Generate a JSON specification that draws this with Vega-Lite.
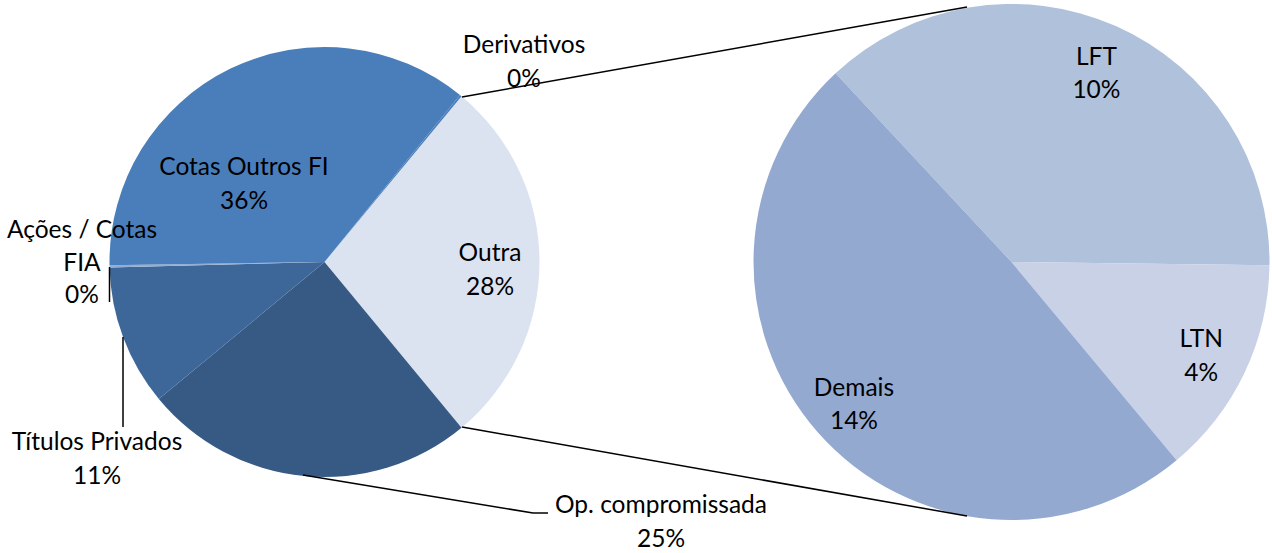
{
  "$schema": "https://vega.github.io/schema/vega-lite/v6.json",
  "width": 1272,
  "height": 553,
  "padding": 0,
  "autosize": {"type": "none"},
  "background": "white",
  "config": {
    "view": {"stroke": null},
    "text": {"font": "Lato", "fontSize": 24.5, "lineHeight": 33.5, "color": "#000000", "align": "center", "baseline": "middle"}
  },
  "datasets": {
    "slices": [
      {"pie": "main", "ord": 1, "label": "Outra", "value": 28},
      {"pie": "main", "ord": 2, "label": "Op. compromissada", "value": 25},
      {"pie": "main", "ord": 3, "label": "Títulos Privados", "value": 10.6},
      {"pie": "main", "ord": 4, "label": "Ações / Cotas FIA", "value": 0.15},
      {"pie": "main", "ord": 5, "label": "Cotas Outros FI", "value": 36.1},
      {"pie": "main", "ord": 6, "label": "Derivativos", "value": 0.15},
      {"pie": "detail", "ord": 1, "label": "LFT", "value": 10.4},
      {"pie": "detail", "ord": 2, "label": "LTN", "value": 3.85},
      {"pie": "detail", "ord": 3, "label": "Demais", "value": 13.75}
    ]
  },
  "data": {"name": "slices"},
  "layer": [
    {
      "transform": [{"filter": "datum.pie == 'main'"}],
      "mark": {"type": "arc", "radius": 215},
      "encoding": {
        "x": {"datum": 324.5, "type": "quantitative", "scale": {"domain": [0, 1272], "range": [0, 1272], "nice": false, "zero": false}, "axis": null},
        "y": {"datum": 262, "type": "quantitative", "scale": {"domain": [0, 553], "range": [0, 553], "nice": false, "zero": false}, "axis": null},
        "theta": {"field": "value", "type": "quantitative", "stack": true, "scale": {"range": [0.6912, 6.9744]}},
        "order": {"field": "ord", "type": "quantitative"},
        "color": {"field": "label", "type": "nominal", "legend": null,
          "scale": {"domain": ["Outra", "Op. compromissada", "Títulos Privados", "Ações / Cotas FIA", "Cotas Outros FI", "Derivativos", "LFT", "LTN", "Demais"],
                    "range": ["#DCE3F0", "#375A85", "#3C6798", "#93ADD3", "#4A7EBB", "#4A7EBB", "#B0C1DC", "#C8D1E5", "#94A9D0"]}}
      }
    },
    {
      "transform": [{"filter": "datum.pie == 'detail'"}, {"calculate": "datum.label + '\\n' + format(datum.value, '.0f') + '%'", "as": "txt"}],
      "encoding": {
        "x": {"datum": 1011.5, "type": "quantitative", "scale": {"domain": [0, 1272], "range": [0, 1272], "nice": false, "zero": false}, "axis": null},
        "y": {"datum": 262, "type": "quantitative", "scale": {"domain": [0, 553], "range": [0, 553], "nice": false, "zero": false}, "axis": null},
        "theta": {"field": "value", "type": "quantitative", "stack": true, "scale": {"range": [-0.7505, 5.5327]}},
        "order": {"field": "ord", "type": "quantitative"}
      },
      "layer": [
        {
          "mark": {"type": "arc", "radius": 258},
          "encoding": {
            "color": {"field": "label", "type": "nominal", "legend": null,
              "scale": {"domain": ["Outra", "Op. compromissada", "Títulos Privados", "Ações / Cotas FIA", "Cotas Outros FI", "Derivativos", "LFT", "LTN", "Demais"],
                        "range": ["#DCE3F0", "#375A85", "#3C6798", "#93ADD3", "#4A7EBB", "#4A7EBB", "#B0C1DC", "#C8D1E5", "#94A9D0"]}}
          }
        },
        {
          "mark": {"type": "text", "radius": 210, "lineBreak": "\n", "dy": -12},
          "encoding": {"text": {"field": "txt", "type": "nominal"}}
        }
      ]
    },
    {
      "data": {"values": [{}]},
      "mark": {"type": "rule", "color": "#000000", "strokeWidth": 1.5},
      "encoding": {
        "x": {"datum": 462, "type": "quantitative", "scale": {"domain": [0, 1272], "range": [0, 1272], "nice": false, "zero": false}, "axis": null},
        "y": {"datum": 97, "type": "quantitative", "scale": {"domain": [0, 553], "range": [0, 553], "nice": false, "zero": false}, "axis": null},
        "x2": {"datum": 967}, "y2": {"datum": 7}
      }
    },
    {
      "data": {"values": [{}]},
      "mark": {"type": "rule", "color": "#000000", "strokeWidth": 1.5},
      "encoding": {
        "x": {"datum": 462, "type": "quantitative", "scale": {"domain": [0, 1272], "range": [0, 1272], "nice": false, "zero": false}, "axis": null},
        "y": {"datum": 427, "type": "quantitative", "scale": {"domain": [0, 553], "range": [0, 553], "nice": false, "zero": false}, "axis": null},
        "x2": {"datum": 967}, "y2": {"datum": 516}
      }
    },
    {
      "data": {"values": [{}]},
      "mark": {"type": "rule", "color": "#000000", "strokeWidth": 1.5},
      "encoding": {
        "x": {"datum": 109.5, "type": "quantitative", "scale": {"domain": [0, 1272], "range": [0, 1272], "nice": false, "zero": false}, "axis": null},
        "y": {"datum": 267, "type": "quantitative", "scale": {"domain": [0, 553], "range": [0, 553], "nice": false, "zero": false}, "axis": null},
        "x2": {"datum": 109.5}, "y2": {"datum": 302}
      }
    },
    {
      "data": {"values": [{}]},
      "mark": {"type": "rule", "color": "#000000", "strokeWidth": 1.5},
      "encoding": {
        "x": {"datum": 123, "type": "quantitative", "scale": {"domain": [0, 1272], "range": [0, 1272], "nice": false, "zero": false}, "axis": null},
        "y": {"datum": 337, "type": "quantitative", "scale": {"domain": [0, 553], "range": [0, 553], "nice": false, "zero": false}, "axis": null},
        "x2": {"datum": 123}, "y2": {"datum": 427}
      }
    },
    {
      "data": {"values": [{}]},
      "mark": {"type": "rule", "color": "#000000", "strokeWidth": 1.5},
      "encoding": {
        "x": {"datum": 303, "type": "quantitative", "scale": {"domain": [0, 1272], "range": [0, 1272], "nice": false, "zero": false}, "axis": null},
        "y": {"datum": 475, "type": "quantitative", "scale": {"domain": [0, 553], "range": [0, 553], "nice": false, "zero": false}, "axis": null},
        "x2": {"datum": 533}, "y2": {"datum": 513}
      }
    },
    {
      "data": {"values": [{}]},
      "mark": {"type": "rule", "color": "#000000", "strokeWidth": 1.5},
      "encoding": {
        "x": {"datum": 533, "type": "quantitative", "scale": {"domain": [0, 1272], "range": [0, 1272], "nice": false, "zero": false}, "axis": null},
        "y": {"datum": 513, "type": "quantitative", "scale": {"domain": [0, 553], "range": [0, 553], "nice": false, "zero": false}, "axis": null},
        "x2": {"datum": 548}, "y2": {"datum": 513}
      }
    },
    {
      "transform": [{"filter": "datum.label == 'Outra'"}, {"calculate": "datum.label + '\\n' + format(datum.value, '.0f') + '%'", "as": "txt"}],
      "mark": {"type": "text", "lineBreak": "\n"},
      "encoding": {
        "x": {"datum": 490, "type": "quantitative", "scale": {"domain": [0, 1272], "range": [0, 1272], "nice": false, "zero": false}, "axis": null},
        "y": {"datum": 254, "type": "quantitative", "scale": {"domain": [0, 553], "range": [0, 553], "nice": false, "zero": false}, "axis": null},
        "text": {"field": "txt", "type": "nominal"}
      }
    },
    {
      "transform": [{"filter": "datum.label == 'Cotas Outros FI'"}, {"calculate": "datum.label + '\\n' + format(datum.value, '.0f') + '%'", "as": "txt"}],
      "mark": {"type": "text", "lineBreak": "\n"},
      "encoding": {
        "x": {"datum": 244, "type": "quantitative", "scale": {"domain": [0, 1272], "range": [0, 1272], "nice": false, "zero": false}, "axis": null},
        "y": {"datum": 168, "type": "quantitative", "scale": {"domain": [0, 553], "range": [0, 553], "nice": false, "zero": false}, "axis": null},
        "text": {"field": "txt", "type": "nominal"}
      }
    },
    {
      "transform": [{"filter": "datum.label == 'Derivativos'"}, {"calculate": "datum.label + '\\n' + format(datum.value, '.0f') + '%'", "as": "txt"}],
      "mark": {"type": "text", "lineBreak": "\n"},
      "encoding": {
        "x": {"datum": 524, "type": "quantitative", "scale": {"domain": [0, 1272], "range": [0, 1272], "nice": false, "zero": false}, "axis": null},
        "y": {"datum": 46, "type": "quantitative", "scale": {"domain": [0, 553], "range": [0, 553], "nice": false, "zero": false}, "axis": null},
        "text": {"field": "txt", "type": "nominal"}
      }
    },
    {
      "transform": [{"filter": "datum.label == 'Ações / Cotas FIA'"}, {"calculate": "replace(datum.label, ' FIA', '\\nFIA') + '\\n' + format(datum.value, '.0f') + '%'", "as": "txt"}],
      "mark": {"type": "text", "lineBreak": "\n", "lineHeight": 32.5},
      "encoding": {
        "x": {"datum": 82, "type": "quantitative", "scale": {"domain": [0, 1272], "range": [0, 1272], "nice": false, "zero": false}, "axis": null},
        "y": {"datum": 231, "type": "quantitative", "scale": {"domain": [0, 553], "range": [0, 553], "nice": false, "zero": false}, "axis": null},
        "text": {"field": "txt", "type": "nominal"}
      }
    },
    {
      "transform": [{"filter": "datum.label == 'Títulos Privados'"}, {"calculate": "datum.label + '\\n' + format(datum.value, '.0f') + '%'", "as": "txt"}],
      "mark": {"type": "text", "lineBreak": "\n"},
      "encoding": {
        "x": {"datum": 97, "type": "quantitative", "scale": {"domain": [0, 1272], "range": [0, 1272], "nice": false, "zero": false}, "axis": null},
        "y": {"datum": 443, "type": "quantitative", "scale": {"domain": [0, 553], "range": [0, 553], "nice": false, "zero": false}, "axis": null},
        "text": {"field": "txt", "type": "nominal"}
      }
    },
    {
      "transform": [{"filter": "datum.label == 'Op. compromissada'"}, {"calculate": "datum.label + '\\n' + format(datum.value, '.0f') + '%'", "as": "txt"}],
      "mark": {"type": "text", "lineBreak": "\n"},
      "encoding": {
        "x": {"datum": 661, "type": "quantitative", "scale": {"domain": [0, 1272], "range": [0, 1272], "nice": false, "zero": false}, "axis": null},
        "y": {"datum": 506, "type": "quantitative", "scale": {"domain": [0, 553], "range": [0, 553], "nice": false, "zero": false}, "axis": null},
        "text": {"field": "txt", "type": "nominal"}
      }
    }
  ],
  "resolve": {"scale": {"theta": "independent"}}
}
